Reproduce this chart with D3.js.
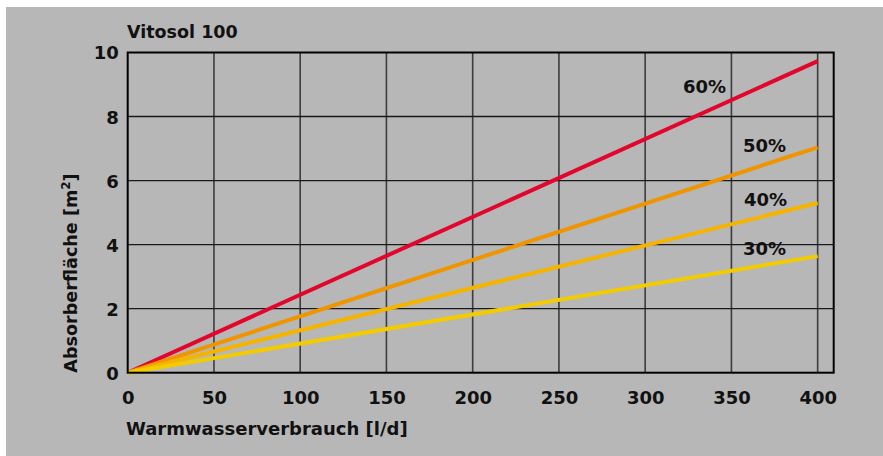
<!DOCTYPE html>
<html>
<head>
<meta charset="utf-8">
<script src="https://cdn.jsdelivr.net/npm/d3@7"></script>
<style>
  html, body { margin: 0; padding: 0; background: #ffffff; }
  svg { display: block; }
  text { font-family: "DejaVu Sans", sans-serif; font-weight: bold; fill: #111; }
</style>
</head>
<body>
<svg id="chart" width="883" height="456"></svg>
<script>
const title = "Vitosol 100";
const xLabel = "Warmwasserverbrauch [l/d]";
const xTicks = [0, 50, 100, 150, 200, 250, 300, 350, 400];
const yTicks = [0, 2, 4, 6, 8, 10];
const seriesNames = ["60%", "50%", "40%", "30%"];
const seriesX = [0, 400];
const series60 = [0, 9.73];
const series50 = [0, 7.04];
const series40 = [0, 5.30];
const series30 = [0, 3.64];
const seriesColors = ["#e2062c", "#ef9500", "#f4b400", "#f2cc00"];

const seriesValues = [series60, series50, series40, series30];
const FONT = "'DejaVu Sans', sans-serif";

const svg = d3.select("#chart");
svg.append("rect").attr("x", 6).attr("y", 7).attr("width", 877).attr("height", 449).attr("fill", "#b7b7b7");

const x = d3.scaleLinear().domain([0, 409.3]).range([127.7, 833.7]);
const y = d3.scaleLinear().domain([0, 10]).range([372.7, 52.5]);

// grid
const grid = svg.append("g");
grid.selectAll("line.vx").data(xTicks.filter(d => d > 0)).enter().append("line")
  .attr("x1", d => x(d)).attr("x2", d => x(d))
  .attr("y1", y(0)).attr("y2", y(10))
  .attr("stroke", "#3c3c3c").attr("stroke-width", 1.6);
grid.selectAll("line.hy").data(yTicks.filter(d => d > 0 && d < 10)).enter().append("line")
  .attr("x1", x(0)).attr("x2", x.range()[1])
  .attr("y1", d => y(d)).attr("y2", d => y(d))
  .attr("stroke", "#1a1a1a").attr("stroke-width", 1.4);

// lines (60% first, 30% on top)
const line = d3.line().x((d, i) => x(seriesX[i])).y(d => y(d));
seriesValues.forEach((vals, i) => {
  svg.append("path").datum(vals).attr("d", line)
    .attr("fill", "none").attr("stroke", seriesColors[i])
    .attr("stroke-width", 4).attr("stroke-linecap", "butt");
});

// frame
svg.append("rect")
  .attr("x", x(0)).attr("y", y(10))
  .attr("width", x.range()[1] - x(0)).attr("height", y(0) - y(10))
  .attr("fill", "none").attr("stroke", "#000").attr("stroke-width", 2);

// axes labels
const xAxis = d3.axisBottom(x).tickValues(xTicks).tickSize(0).tickPadding(0);
const gx = svg.append("g").attr("transform", `translate(0,${y(0)})`).call(xAxis);
gx.select(".domain").remove();
gx.selectAll("text").attr("dy", null).attr("y", 31.5).attr("font-size", 18)
  .style("font-family", FONT).style("font-weight", "bold").attr("fill", "#111");

const yAxis = d3.axisLeft(y).tickValues(yTicks).tickSize(0).tickPadding(0);
const gy = svg.append("g").attr("transform", `translate(${x(0)},0)`).call(yAxis);
gy.select(".domain").remove();
gy.selectAll("text").attr("x", -9).attr("dy", "0.36em").attr("font-size", 18)
  .style("font-family", FONT).style("font-weight", "bold").attr("fill", "#111");

// title
svg.append("text").attr("x", 127).attr("y", 38).attr("font-size", 17.5).text(title);

// x label
svg.append("text").attr("x", 126).attr("y", 435).attr("font-size", 18).text(xLabel);

// y label
const yl = svg.append("text").attr("transform", `translate(77,273) rotate(-90)`)
  .attr("text-anchor", "middle").attr("font-size", 17.6);
yl.append("tspan").text("Absorberfläche [m");
yl.append("tspan").attr("font-size", 12).attr("dy", -7).text("2");
yl.append("tspan").attr("dy", 7).text("]");

// series labels
const labelPos = [[683, 92.7], [743, 151.7], [744, 205.7], [743, 255]];
seriesNames.forEach((n, i) => {
  svg.append("text").attr("x", labelPos[i][0]).attr("y", labelPos[i][1]).attr("font-size", 18).text(n);
});
</script>
</body>
</html>
